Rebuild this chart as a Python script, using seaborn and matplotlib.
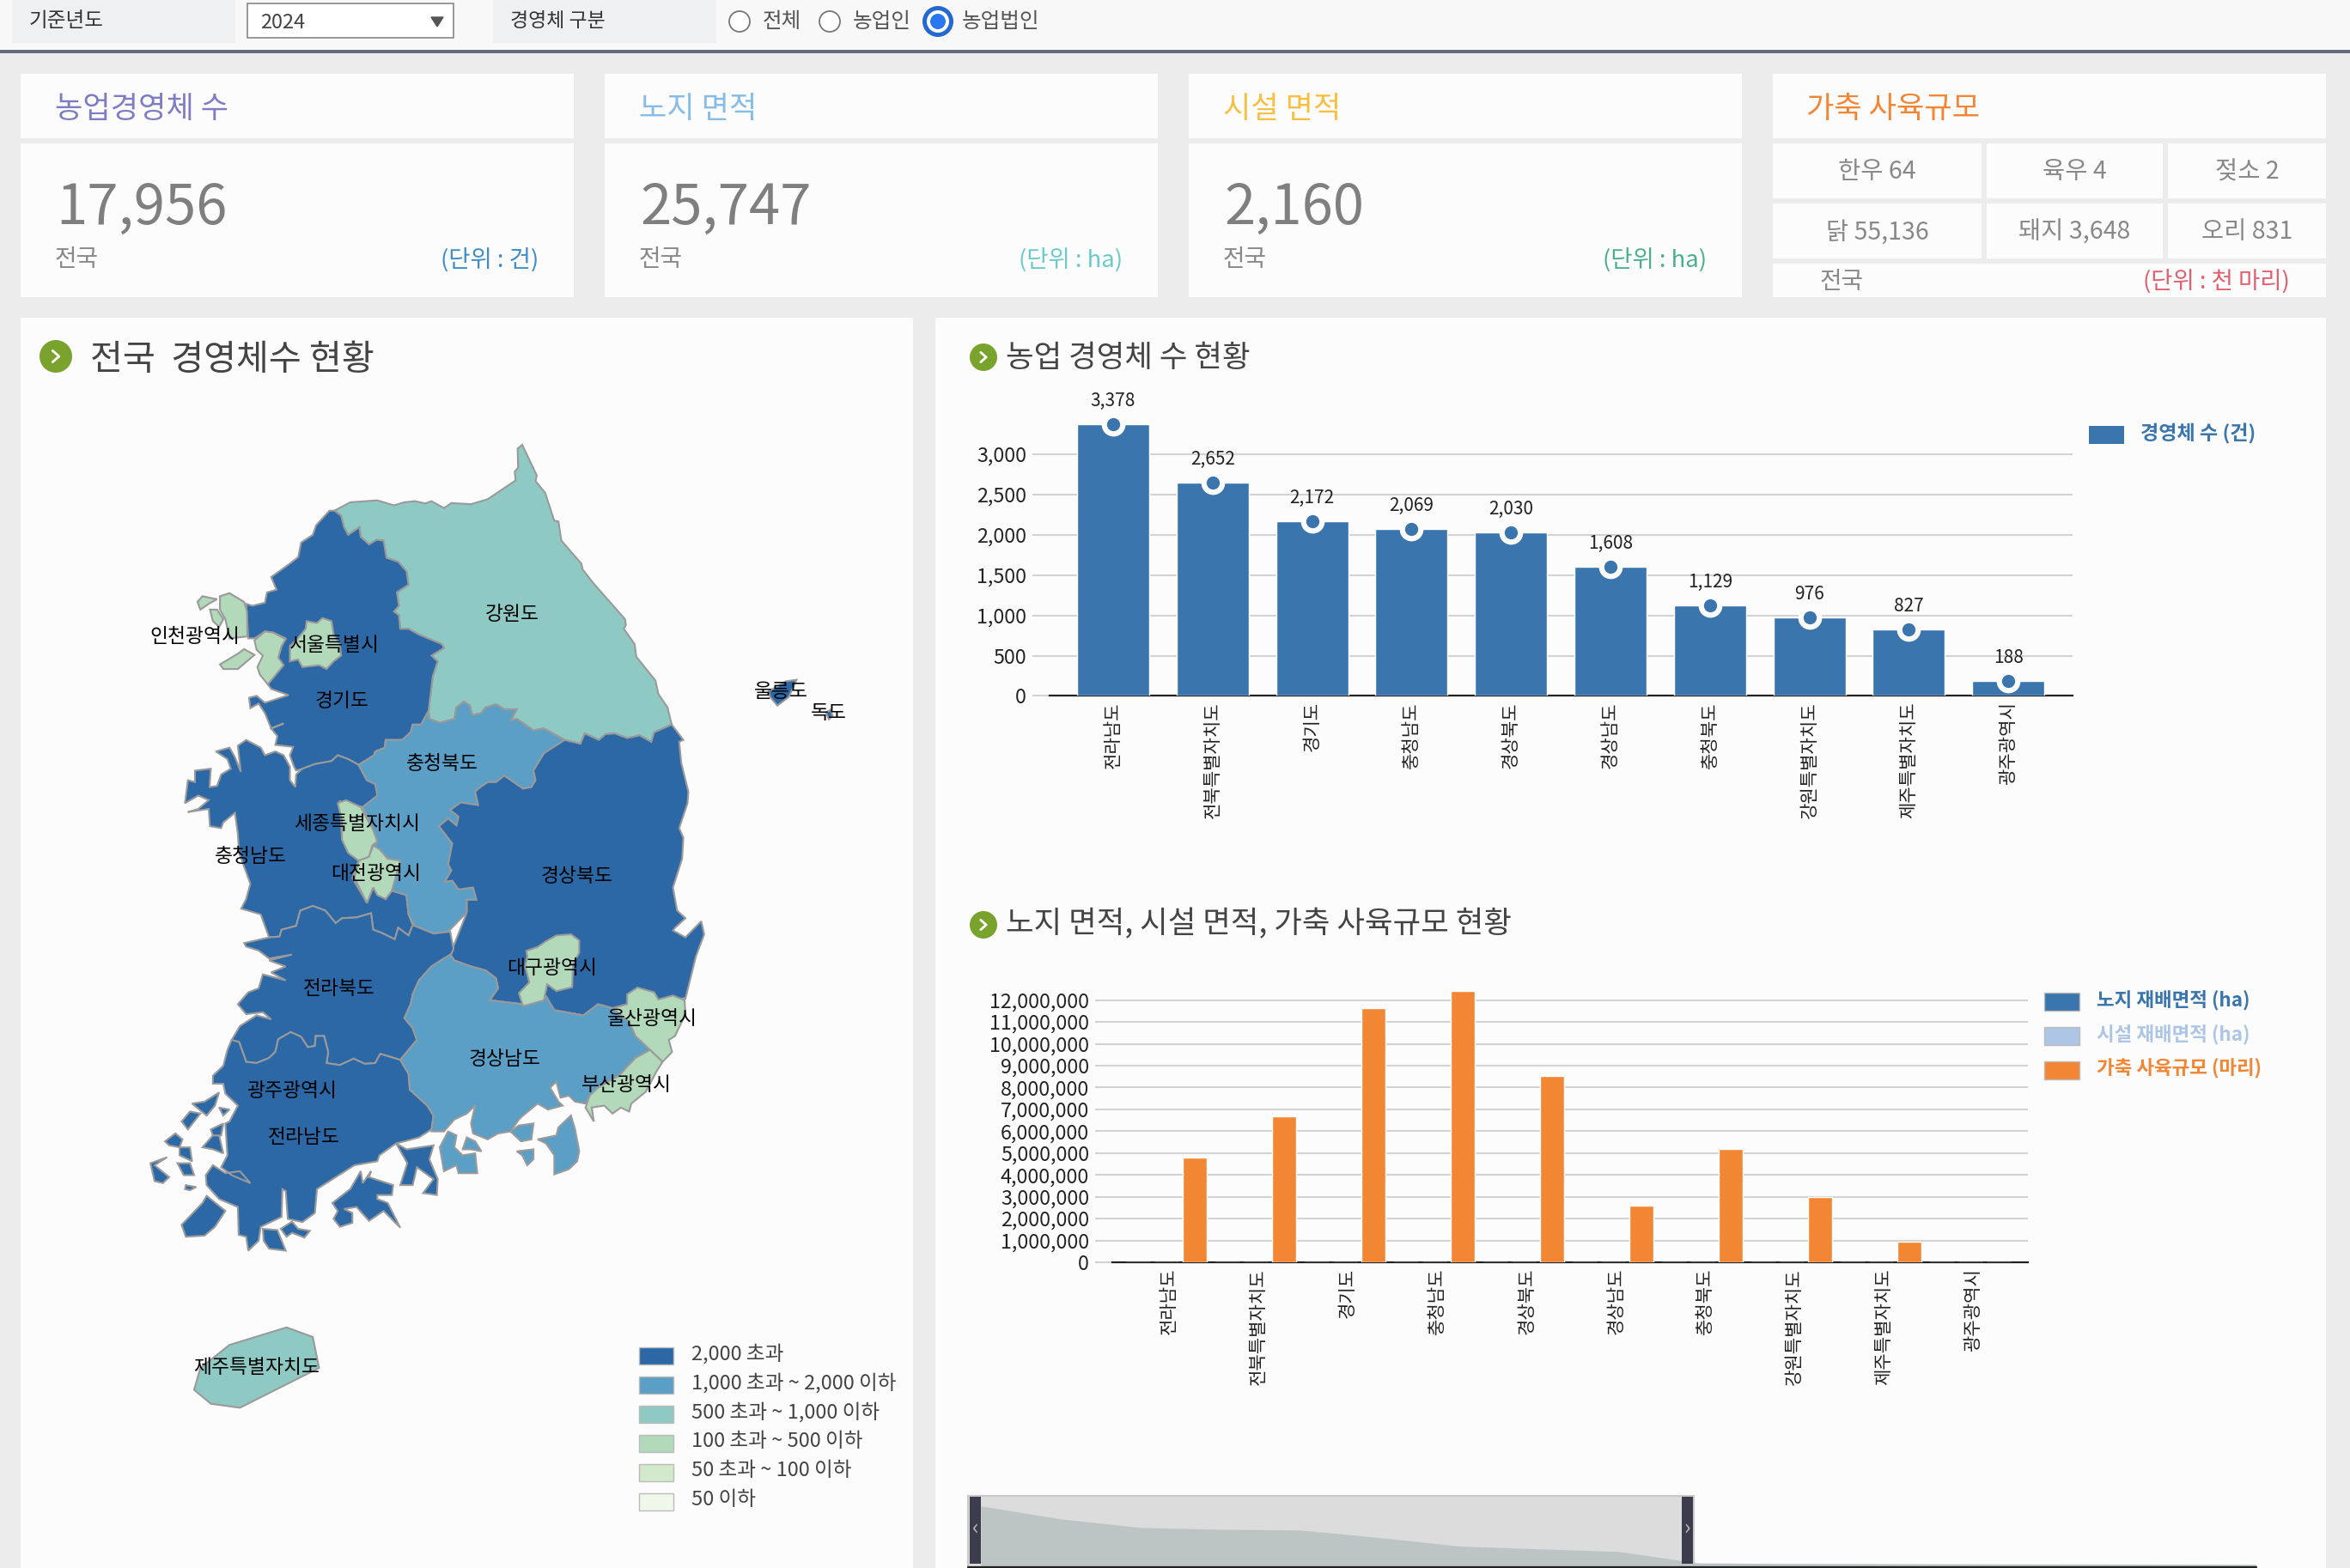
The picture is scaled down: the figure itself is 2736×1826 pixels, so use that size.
import numpy as np
import pandas as pd
import matplotlib.pyplot as plt
from matplotlib.patches import Rectangle, Circle
from matplotlib.transforms import ScaledTranslation
import seaborn as sns

W, H = 2736, 1826

sns.set_theme(style='white')
plt.rcParams['font.family'] = ['Noto Sans CJK KR', 'DejaVu Sans']
plt.rcParams['axes.unicode_minus'] = False

# data
regions = ['전라남도', '전북특별자치도', '경기도', '충청남도', '경상북도', '경상남도', '충청북도',
           '강원특별자치도', '제주특별자치도', '광주광역시']
counts = [3378, 2652, 2172, 2069, 2030, 1608, 1129, 976, 827, 188]
other_counts = [160, 150, 140, 130, 125, 115, 107]  # 대구 부산 인천 울산 대전 서울 세종 (estimate)
open_area = [7200, 3900, 2100, 2900, 3800, 2000, 1500, 1200, 1100, 47]
house_area = [600, 250, 350, 300, 250, 200, 90, 60, 50, 10]
livestock = [4810000, 6680000, 11630000, 12420000, 8530000, 2600000, 5180000, 2980000, 940000, 5000]

bin_labels = ['2,000 초과', '1,000 초과 ~ 2,000 이하', '500 초과 ~ 1,000 이하',
              '100 초과 ~ 500 이하', '50 초과 ~ 100 이하', '50 이하']
bin_colors = ['#2c68a5', '#5b9fc6', '#8fc9c3', '#b2d9b9', '#d2e9cb', '#f0f8ec']
bin_edges = [2000, 1000, 500, 100, 50, 0]


def bin_color(v):
    for e, c in zip(bin_edges, bin_colors):
        if v > e:
            return c
    return bin_colors[-1]


# map outlines, traced in crop coordinates
def z3(pts):
    return [(100 + x / 2.063, 480 + y / 2.24) for x, y in pts]


def z4(pts):
    return [(100 + x / 2.063, 1100 + y / 2.16) for x, y in pts]


def z8(pts):
    return [(850 + x / 3, 770 + y / 3) for x, y in pts]


gangwon = z3([(597,257),(635,235),(700,230),(740,243),(765,235),(790,232),(815,238),(830,232),(860,250),(878,237),(925,240),(965,227),(1032,178),(1030,155),(1038,145),(1037,95),(1048,85),(1083,165),(1080,180),(1103,210),(1125,283),(1135,285),(1142,335),(1190,395),(1193,410),(1218,445),(1295,540),(1297,555),(1292,565),(1318,605),(1322,638),(1342,665),(1368,700),(1375,735),(1397,770),(1407,815),(1365,835),(1358,860),(1330,843),(1300,850),(1270,838),(1248,840),(1232,855),(1198,838),(1188,865),(1150,855),(1100,825),(1075,830),(1035,800),(1020,805),(1035,775),(1005,775),(985,762),(960,770),(950,785),(928,790),(922,765),(908,755),(890,770),(885,800),(850,810),(825,800),(823,780),(833,690),(845,650),(830,635),(860,615),(855,605),(800,580),(775,565),(755,565),(752,530),(740,520),(752,505),(747,470),(775,450),(770,415),(750,390),(722,380),(715,335),(698,333),(680,345),(660,325),(657,300),(630,320),(620,300),(613,270)])
gyeonggi = z3([(597,257),(613,270),(620,300),(630,320),(657,300),(660,325),(680,345),(698,333),(715,335),(722,380),(750,390),(770,415),(775,450),(747,470),(752,505),(740,520),(752,530),(755,565),(775,565),(800,580),(855,605),(860,615),(830,635),(845,650),(833,690),(823,780),(805,815),(785,815),(780,835),(760,855),(720,855),(718,875),(695,885),(692,895),(655,920),(630,905),(605,895),(590,910),(550,918),(520,930),(505,935),(500,925),(490,895),(498,873),(455,868),(460,845),(445,825),(475,812),(445,825),(430,785),(415,760),(395,772),(392,745),(410,740),(430,758),(487,738),(445,722),(437,710),(470,660),(462,640),(470,610),(480,590),(450,575),(430,572),(405,590),(390,590),(385,500),(400,505),(430,497),(435,470),(458,463),(445,430),(490,395),(510,378),(517,340),(545,320),(553,295),(585,257)])
seoul = z3([(490,610),(505,595),(528,565),(530,545),(555,550),(568,537),(590,545),(595,580),(610,605),(613,635),(595,650),(578,670),(560,660),(520,665),(510,645),(490,650)])
incheon = [z3([(405,595),(430,572),(450,575),(480,592),(470,610),(462,640),(475,660),(437,710),(418,685),(412,665),(425,635),(410,620)]),
           z3([(322,480),(345,472),(380,495),(387,520),(388,585),(345,590),(335,540),(322,515)]),
           z3([(298,515),(315,515),(330,540),(320,560),(305,545)]),
           z3([(268,495),(280,480),(315,488),(295,500),(275,515)]),
           z3([(322,658),(365,630),(380,618),(405,633),(365,670),(330,670)])]
chungbuk = z3([(655,920),(692,895),(695,885),(718,875),(720,855),(760,855),(780,835),(785,815),(805,815),(823,780),(825,800),(850,810),(885,800),(890,770),(908,755),(922,765),(928,790),(950,785),(960,770),(985,762),(1005,775),(1035,775),(1020,805),(1035,800),(1075,830),(1100,825),(1150,855),(1100,890),(1075,935),(1080,960),(1070,978),(1050,982),(1005,948),(985,965),(965,965),(945,980),(935,990),(942,1025),(900,1018),(875,1038),(895,1055),(890,1078),(870,1060),(848,1080),(880,1125),(870,1180),(878,1195),(862,1225),(880,1222),(895,1245),(930,1240),(938,1272),(915,1272),(915,1305),(870,1355),(835,1360),(790,1340),(775,1310),(770,1260),(735,1248),(755,1170),(725,1165),(705,1140),(690,1130),(700,1120),(690,1090),(665,1030),(700,1000),(695,970),(675,960)])
chungnam = z3([(655,920),(630,905),(605,895),(590,910),(550,918),(520,930),(505,945),(503,978),(490,960),(490,925),(475,895),(455,885),(430,895),(420,875),(385,855),(365,870),(372,938),(358,900),(345,875),(312,885),(340,905),(348,930),(325,945),(315,975),(297,978),(300,930),(262,935),(262,965),(245,960),(238,1020),(270,1000),(295,1012),(270,1035),(245,1043),(295,1035),(298,1080),(325,1085),(330,1070),(358,1045),(365,1100),(368,1150),(395,1230),(385,1270),(373,1295),(420,1310),(440,1370),(465,1368),(470,1350),(505,1340),(515,1300),(545,1288),(575,1300),(600,1333),(615,1320),(650,1318),(685,1307),(690,1350),(710,1358),(742,1375),(750,1345),(775,1365),(785,1338),(775,1310),(770,1260),(735,1248),(720,1270),(690,1240),(675,1280),(640,1215),(655,1170),(615,1115),(610,1015),(665,1030),(703,1000),(695,970),(675,960)])
sejong = z3([(605,1020),(625,1012),(660,1030),(690,1090),(700,1120),(688,1130),(680,1160),(655,1170),(630,1150),(615,1115),(615,1065)])
daejeon = z3([(655,1170),(680,1160),(690,1130),(705,1140),(725,1165),(755,1170),(735,1248),(720,1270),(700,1260),(690,1240),(675,1280),(645,1215),(650,1195)])
gyeongbuk = z3([(1407,815),(1435,855),(1425,860),(1430,915),(1447,990),(1445,1020),(1425,1085),(1435,1110),(1432,1165),(1410,1240),(1420,1300),(1440,1320),(1415,1345),(1410,1352),(1440,1370),(1478,1328),(1485,1362),(1465,1420),(1440,1530)]) \
    + z4([(1437,135),(1300,150),(1265,160),(1230,150),(1195,178),(1125,165),(1105,130),(1050,150),(970,140),(990,110),(985,85),(960,65),(925,55),(885,40),(875,25)]) \
    + z3([(915,1305),(915,1272),(938,1272),(930,1240),(895,1245),(880,1222),(862,1225),(878,1195),(870,1180),(880,1125),(848,1080),(870,1060),(890,1078),(895,1055),(875,1038),(900,1018),(942,1025),(935,990),(945,980),(965,965),(985,965),(1005,948),(1050,982),(1070,978),(1080,960),(1075,935),(1100,890),(1150,855),(1188,865),(1198,838),(1232,855),(1248,840),(1270,838),(1300,850),(1330,843),(1358,860),(1365,835)])
daegu = z3([(1058,1405),(1085,1395),(1105,1380),(1130,1365),(1165,1362),(1185,1378),(1185,1410),(1170,1440),(1168,1500),(1130,1510)]) \
    + z4([(1108,100),(1100,140),(1050,155),(1040,122),(1065,95),(1055,55),(1060,30)])
ulsan = z4([(1300,125),(1325,108),(1365,120),(1375,138),(1410,128),(1438,140),(1440,175),(1415,230),(1400,240),(1408,270),(1385,295),(1355,265),(1320,230),(1305,195),(1265,160),(1300,150)])
busan = z4([(1355,265),(1385,295),(1370,320),(1345,370),(1310,400),(1305,420),(1285,410),(1265,425),(1245,405),(1215,410),(1220,445),(1200,410),(1210,380),(1230,360),(1280,330),(1320,285)])
gyeongnam = [z4([(875,25),(885,40),(925,55),(960,65),(985,85),(990,110),(970,140),(1050,150),(1105,130),(1125,165),(1195,178),(1230,150),(1265,160),(1305,195),(1320,230),(1355,265),(1320,285),(1280,330),(1230,360),(1210,380),(1200,400),(1175,395),(1160,380),(1140,385),(1130,345),(1115,360),(1135,395),(1145,405),(1110,415),(1085,400),(1050,430),(1040,440),(1020,470),(990,475),(965,490),(930,475),(925,450),(935,405),(915,425),(885,440),(860,470),(830,470),(835,430),(820,405),(778,365),(775,325),(755,290),(795,240),(785,210),(765,185),(780,150),(785,125),(800,90),(830,55),(860,35)]),
             z4([(850,510),(870,470),(890,480),(885,510),(905,530),(935,525),(940,575),(895,575),(890,555),(860,570)]),
             z4([(905,515),(915,485),(935,495),(950,520),(925,515)]),
             z4([(1020,470),(1040,455),(1075,450),(1070,490),(1045,495)]),
             z4([(1035,520),(1075,515),(1075,540),(1060,555),(1048,530)]),
             z4([(1085,490),(1130,480),(1135,460),(1165,430),(1175,465),(1185,520),(1180,545),(1160,565),(1125,578),(1125,530),(1105,500)])]
jeonbuk = z3([(440,1370),(465,1368),(470,1350),(505,1340),(515,1300),(545,1288),(575,1300),(600,1333),(615,1320),(650,1318),(685,1307),(690,1350),(710,1358),(742,1375),(750,1345),(775,1365),(785,1338),(835,1360),(875,1355),(883,1400),(875,1420)]) \
    + z4([(860,35),(830,55),(800,90),(785,125),(780,150),(765,185),(785,210),(795,240),(755,290),(725,280),(707,275),(695,298),(670,300),(643,287),(610,303),(578,298),(582,270),(572,230),(552,230),(550,255),(533,258),(517,232),(492,220),(462,238),(455,270),(440,285),(410,298),(385,295),(368,245),(350,240),(370,205),(410,178),(445,188),(425,170),(385,175),(365,150),(390,120),(415,110),(425,75),(480,90),(445,70),(480,55),(440,40),(495,25),(440,35),(415,15),(385,5)]) \
    + z3([(380,1385),(420,1375)])
jeonnam = [z4([(350,240),(368,245),(385,295),(410,298),(440,285),(455,270),(462,238),(492,220),(517,232),(533,258),(550,255),(552,230),(572,230),(582,270),(578,298),(610,303),(643,287),(670,300),(695,298),(707,275),(755,290),(775,325),(778,365),(820,405),(835,430),(830,465),(800,485),(765,495),(745,500),(705,530),(700,545),(645,555),(555,615),(550,675),(520,698),(485,690),(480,620),(472,615),(470,685),(420,710),(415,745),(390,770),(385,735),(367,730),(365,660),(320,640),(290,605),(288,580),(305,555),(335,575),(370,570),(395,600),(350,580),(325,560),(340,530),(335,450),(345,445),(365,405),(335,375),(330,350),(305,350),(305,330),(330,305),(340,265)]),
           z4([(230,705),(280,650),(290,632),(335,670),(310,710),(285,732),(240,735)]),
           z4([(592,650),(635,615),(660,570),(665,600),(685,570),(680,585),(738,605),(735,630),(700,630),(700,640),(725,650),(755,712),(715,670),(680,695),(650,660),(620,665),(640,675),(640,700),(610,710),(595,690),(605,670)]),
           z4([(745,500),(770,515),(835,505),(825,540),(845,590),(843,630),(810,625),(835,590),(795,560),(785,605),(755,605),(772,550)]),
           z4([(425,715),(460,718),(480,770),(440,765),(427,745)]),
           z4([(468,715),(495,697),(510,715),(538,720),(525,737),(495,725),(482,735)]),
           z4([(285,395),(320,372),(310,405),(290,430),(255,400)]),
           z4([(230,445),(250,420),(275,425),(245,465)]),
           z4([(190,495),(215,475),(232,490),(225,510),(200,505)]),
           z4([(155,550),(195,535),(165,555),(200,585),(185,600),(165,595)]),
           z4([(220,550),(250,550),(260,580),(235,580)]),
           z4([(240,605),(265,610),(250,618),(238,615)]),
           z4([(280,510),(305,480),(320,480),(330,525),(305,515)]),
           z4([(300,465),(330,450),(325,480),(305,480)]),
           z4([(320,410),(345,415),(330,430)]),
           z4([(225,510),(250,510),(255,545),(225,530)])]
jeju = z4([(260,1120),(275,1065),(345,1007),(482,963),(545,987),(560,1065),(370,1165),(300,1155)])
ulleung = [z8([(135,105),(195,70),(232,65),(205,125),(165,155),(140,125)]),
           z8([(335,180),(350,170),(358,190),(345,203)])]

# draw order: provinces first, cities on top
map_parts = [(gangwon, 976), (gyeonggi, 2172), (chungnam, 2069), (chungbuk, 1129), (gyeongbuk, 2030),
             (jeonbuk, 2652), (jeonnam, 3378), (gyeongnam, 1608), (seoul, 160), (incheon, 150),
             (sejong, 107), (daejeon, 125), (daegu, 160), (ulsan, 130), (busan, 140), (jeju, 827),
             (ulleung, 2030)]

map_labels = [('강원도', 342, 409), ('인천광역시', 130, 424), ('서울특별시', 223, 430), ('경기도', 228, 467),
              ('충청북도', 295, 509), ('세종특별자치시', 238, 549), ('충청남도', 167, 571), ('대전광역시', 251, 582),
              ('경상북도', 385, 584), ('대구광역시', 368, 645), ('전라북도', 226, 659), ('울산광역시', 435, 679),
              ('경상남도', 337, 706), ('부산광역시', 418, 723), ('광주광역시', 195, 727), ('전라남도', 203, 758),
              ('제주특별자치도', 171, 912), ('울릉도', 521, 461), ('독도', 553, 475)]

fig = plt.figure(figsize=(W / 100, H / 100), dpi=100, facecolor='#ececec')
bg = fig.add_axes([0, 0, 1, 1])
bg.set_xlim(0, W)
bg.set_ylim(H, 0)
bg.axis('off')


def box(x0, y0, x1, y1, fc='#fcfcfc', ec='none', lw=0, ax=bg):
    ax.add_patch(Rectangle((x0, y0), x1 - x0, y1 - y0, facecolor=fc, edgecolor=ec, linewidth=lw))


def txt(x, y, s, size=15, color='#333333', ha='left', weight='normal', ax=bg):
    # the CJK font sits a little high when centred
    ax.text(x, y + 2.5, s, fontsize=size, color=color, ha=ha, va='center', fontweight=weight)


def axes_px(x0, y0, x1, y1):
    a = fig.add_axes([x0 / W, 1 - y1 / H, (x1 - x0) / W, (y1 - y0) / H])
    a.patch.set_alpha(0)
    return a


# top filter bar
box(0, 0, W, 58, fc='#f8f8f8')
box(0, 58, W, 62, fc='#666b7e')
box(14, 0, 274, 50, fc='#eef0f1')
box(574, 0, 834, 50, fc='#eef0f1')
box(288, 4, 528, 44, fc='#ffffff', ec='#888888', lw=1.2)
txt(34, 22, '기준년도', size=17)
txt(303, 24, '2024', size=17, color='#444444')
bg.fill([502, 516, 509], [20, 20, 31], color='#555555')
txt(594, 22, '경영체 구분', size=16.5)
bg.add_patch(Circle((861, 25), 12, fc='#ffffff', ec='#777777', lw=1.3))
bg.add_patch(Circle((966, 25), 12, fc='#ffffff', ec='#777777', lw=1.3))
bg.add_patch(Circle((1092, 25), 18, fc='#2468d0', ec='none'))
bg.add_patch(Circle((1092, 25), 13, fc='#ffffff', ec='none'))
bg.add_patch(Circle((1092, 25), 9, fc='#2a78f0', ec='none'))
txt(888, 22, '전체', size=17.7, color='#555555')
txt(993, 22, '농업인', size=17.7, color='#555555')
txt(1120, 22, '농업법인', size=17.7, color='#555555')

# summary cards
card_x = [(24, 668), (704, 1348), (1384, 2028)]
card_titles = ['농업경영체 수', '노지 면적', '시설 면적']
card_colors = ['#7e7dc4', '#86bce5', '#f7c044']
card_values = ['17,956', '25,747', '2,160']
card_units = ['(단위 : 건)', '(단위 : ha)', '(단위 : ha)']
unit_colors = ['#3f8ec9', '#6ccbc8', '#4caf8f']
for i, (x0, x1) in enumerate(card_x):
    box(x0, 86, x1, 161)
    box(x0, 167, x1, 346)
    txt(x0 + 40, 124, card_titles[i], size=25.3, color=card_colors[i])
    txt(x0 + 41, 240, card_values[i], size=47, color='#7f7f7f')
    txt(x0 + 40, 300, '전국', size=20, color='#888888')
    txt(x1 - 41, 300, card_units[i], size=19.8, color=unit_colors[i], ha='right')

box(2064, 86, 2708, 161)
txt(2103, 124, '가축 사육규모', size=25.3, color='#f28635')
cell_x = [(2064, 2307), (2313, 2518), (2524, 2708)]
cell_y = [(167, 231), (237, 301)]
cell_text = [['한우 64', '육우 4', '젖소 2'], ['닭 55,136', '돼지 3,648', '오리 831']]
for r, (y0, y1) in enumerate(cell_y):
    for c, (x0, x1) in enumerate(cell_x):
        box(x0, y0, x1, y1)
        txt((x0 + x1) / 2, (y0 + y1) / 2 - 1, cell_text[r][c], size=20.5, color='#888888', ha='center')
box(2064, 307, 2708, 346)
txt(2119, 325, '전국', size=20, color='#888888')
txt(2666, 325, '(단위 : 천 마리)', size=19.8, color='#e0606f', ha='right')

# big panels
box(24, 370, 1063, H)
box(1089, 370, 2708, H)


def title_icon(x, y, r):
    bg.add_patch(Circle((x, y), r, fc='#7aa32e', ec='none'))
    bg.plot([x - r * .2, x + r * .2, x - r * .2], [y - r * .35, y, y + r * .35], color='white', lw=2)


title_icon(65, 415, 19)
txt(105, 417, '전국  경영체수 현황', size=29.7, color='#444444')
title_icon(1145, 416, 16)
txt(1171, 414, '농업 경영체 수 현황', size=25.5, color='#444444')
title_icon(1145, 1077, 16)
txt(1171, 1074, '노지 면적, 시설 면적, 가축 사육규모 현황', size=25.5, color='#444444')

# map
for part, val in map_parts:
    polys = part if isinstance(part[0], list) else [part]
    for p in polys:
        xs, ys = zip(*p)
        bg.fill(xs, ys, facecolor=bin_color(val), edgecolor='#9a9a9a', linewidth=1.5)
for s, x, y in map_labels:
    txt(x * 1.745, y * 1.745 - 1, s, size=16.4, color='black', ha='center')

legend_y = [1570, 1604, 1638, 1672, 1706, 1740]
for y0, c, s in zip(legend_y, bin_colors, bin_labels):
    box(744, y0 - 1, 784, y0 + 19, fc=c, ec='#bbbbbb', lw=1)
    txt(805, y0 + 4, s, size=17, color='#444444')

# first bar chart
bar_blue = '#3a75ad'
grid_col = '#d2d2d2'
ax1 = axes_px(1222, 440, 2413, 810.4)
sns.barplot(x=regions, y=counts, color=bar_blue, saturation=1, width=.725, ax=ax1, zorder=3)
ax1.scatter(range(len(counts)), counts, s=20 ** 2, color='#fcfcfc', linewidths=0, zorder=4, clip_on=False)
ax1.scatter(range(len(counts)), counts, s=11 ** 2, color=bar_blue, linewidths=0, zorder=5, clip_on=False)
for i, v in enumerate(counts):
    ax1.text(i, v + 288, f'{v:,}', ha='center', va='center', fontsize=15, color='#222222')
ax1.set_xlim(-.639, 9.646)
ax1.set_ylim(0, 3949)
ax1.set_yticks([0, 500, 1000, 1500, 2000, 2500, 3000])
ax1.set_yticklabels(['0', '500', '1,000', '1,500', '2,000', '2,500', '3,000'])

# second bar chart
df = pd.DataFrame({'region': regions, '노지 재배면적 (ha)': open_area, '시설 재배면적 (ha)': house_area,
                   '가축 사육규모 (마리)': livestock})
long_df = df.melt(id_vars='region', var_name='series', value_name='value')
series_colors = {'노지 재배면적 (ha)': bar_blue, '시설 재배면적 (ha)': '#aec6e6', '가축 사육규모 (마리)': '#f28635'}
ax2 = axes_px(1295, 1130, 2361, 1470)
sns.barplot(data=long_df, x='region', y='value', hue='series', palette=series_colors, saturation=1,
            width=.95, gap=.15, legend=False, ax=ax2, zorder=3)
ax2.set_xlim(-.606, 9.64)
ax2.set_ylim(0, 340 / (305.4 / 12000000))
ax2.set_yticks(np.arange(0, 13) * 1000000)
ax2.set_yticklabels([f'{v:,}' for v in np.arange(0, 13) * 1000000])

for a in [ax1, ax2]:
    a.set_xlabel('')
    a.set_ylabel('')
    a.yaxis.grid(True, color=grid_col, linewidth=1.5, zorder=0)
    a.set_axisbelow(True)
    sns.despine(ax=a, left=True, top=True, right=True)
    a.spines['bottom'].set_color('#222222')
    a.spines['bottom'].set_linewidth(1.6)
    a.tick_params(axis='y', length=14.4, width=1.5, color=grid_col, pad=5, labelsize=16.8, labelcolor='#222222', left=True)
    a.tick_params(axis='x', length=0, pad=5, labelsize=15.2, labelcolor='#222222', rotation=90)
    for t in a.get_xticklabels():
        t.set_va('top')

# labels of the lower chart sit a bit to the right of their band
for t in ax2.get_xticklabels():
    t.set_transform(t.get_transform() + ScaledTranslation(.03, 0, fig.dpi_scale_trans))

# chart legends
box(2432, 496, 2473, 517, fc=bar_blue)
txt(2492, 503, '경영체 수 (건)', size=16.6, color=bar_blue, weight='bold')
for y0, (name, c) in zip([1156, 1196, 1236], series_colors.items()):
    box(2380, y0, 2421, y0 + 21, fc=c, ec='#bbbbbb', lw=1)
    txt(2441, y0 + 6, name, size=16.2, color=c, weight='bold')

# navigator strip below second chart
box(1127, 1742, 1972, H, fc='#dcdcdc', ec='#c8c8c8', lw=1.5)
nav_values = sorted(counts + other_counts, reverse=True)
step = 92.8
ax3 = axes_px(1142, 1700, 1142 + step * (len(nav_values) - 1), 1824)
ax3.fill_between(range(len(nav_values)), nav_values, 0, color='#bcc5c4', linewidth=0)
ax3.set_xlim(0, len(nav_values) - 1)
ax3.set_ylim(0, 124 / .0208)
ax3.axis('off')
ax4 = axes_px(1127, 1700, 2627, H)
ax4.axis('off')
ax4.set_xlim(1127, 2627)
ax4.set_ylim(H, 1700)
ax4.plot([1127, 2627], [1824.6, 1824.6], color='#222222', lw=1.6, clip_on=False)
for x0 in [1129, 1958]:
    ax4.add_patch(Rectangle((x0, 1743), 13, 78, fc='#3c3c4c', ec='none', zorder=5))
ax4.text(1135.5, 1780, '‹', color='#bbbbbb', fontsize=18, ha='center', va='center', zorder=6)
ax4.text(1964.5, 1780, '›', color='#bbbbbb', fontsize=18, ha='center', va='center', zorder=6)

plt.savefig('out.png', dpi=100, facecolor=fig.get_facecolor())
